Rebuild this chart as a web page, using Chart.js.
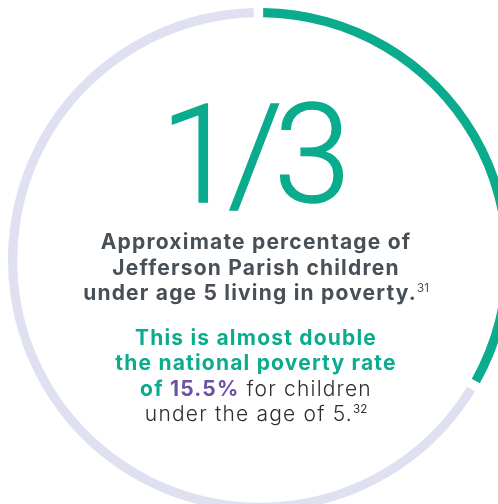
<!DOCTYPE html>
<html>
<head>
<meta charset="utf-8">
<script src="https://cdn.jsdelivr.net/npm/chart.js@4.4.1/dist/chart.umd.min.js"></script>
<style>
    html, body { margin: 0; padding: 0; background: #fff; width: 498px; height: 504px; overflow: hidden; position: relative; }
    #ring { position: absolute; left: 8px; top: 8px; }
    .txt { position: absolute; left: 0; width: 512px; text-align: center; white-space: nowrap; }
    #big { top: 80px; left: -5px; font-family: Roboto, sans-serif; font-weight: 300; font-size: 138px; line-height: 150px; color: #0bab8e; letter-spacing: -9px; -webkit-text-stroke: 1.6px #0bab8e; }
    #lead { top: 229px; font-family: Inter, sans-serif; font-weight: 700; font-size: 21px; line-height: 25.5px; color: #474f57; letter-spacing: 1.2px; }
    #note { top: 325px; font-family: Inter, sans-serif; font-size: 21px; line-height: 25.3px; letter-spacing: 1.2px; }
    .teal { color: #0bab8e; font-weight: 700; }
    .purple { color: #6b52a3; font-weight: 700; }
    .plain { color: #2e2e2e; font-weight: 300; }
    sup { font-size: 0.55em; vertical-align: 0; position: relative; top: -0.7em; font-weight: 400; letter-spacing: 0; }
</style>
</head>
<body>
<canvas id="ring" width="504" height="504"></canvas>
<div id="big" class="txt">1/3</div>
<div id="lead" class="txt">Approximate percentage of<br>Jefferson Parish children<br>under age 5 living in poverty.<sup>31</sup></div>
<div id="note" class="txt">
    <span class="teal">This is almost double</span><br>
    <span class="teal">the national poverty rate</span><br>
    <span class="teal">of </span><span class="purple">15.5%</span><span class="plain"> for children</span><br>
    <span class="plain">under the age of 5.<sup>32</sup></span>
</div>
<script>
    // share of children under 5 in poverty vs. the rest
    const labels = ['In poverty', 'Not in poverty'];
    const shares = [1 / 3, 2 / 3];
    const colors = ['#0bab8e', '#dfe0f0'];

    new Chart(document.getElementById('ring'), {
        type: 'doughnut',
        data: {
            labels: labels,
            datasets: [{
                data: shares,
                backgroundColor: colors,
                borderWidth: 0,
                spacing: 6
            }]
        },
        options: {
            responsive: false,
            animation: false,
            cutout: '96.3%',
            layout: { padding: 0 },
            plugins: { legend: { display: false }, tooltip: { enabled: false } }
        }
    });
</script>
</body>
</html>
